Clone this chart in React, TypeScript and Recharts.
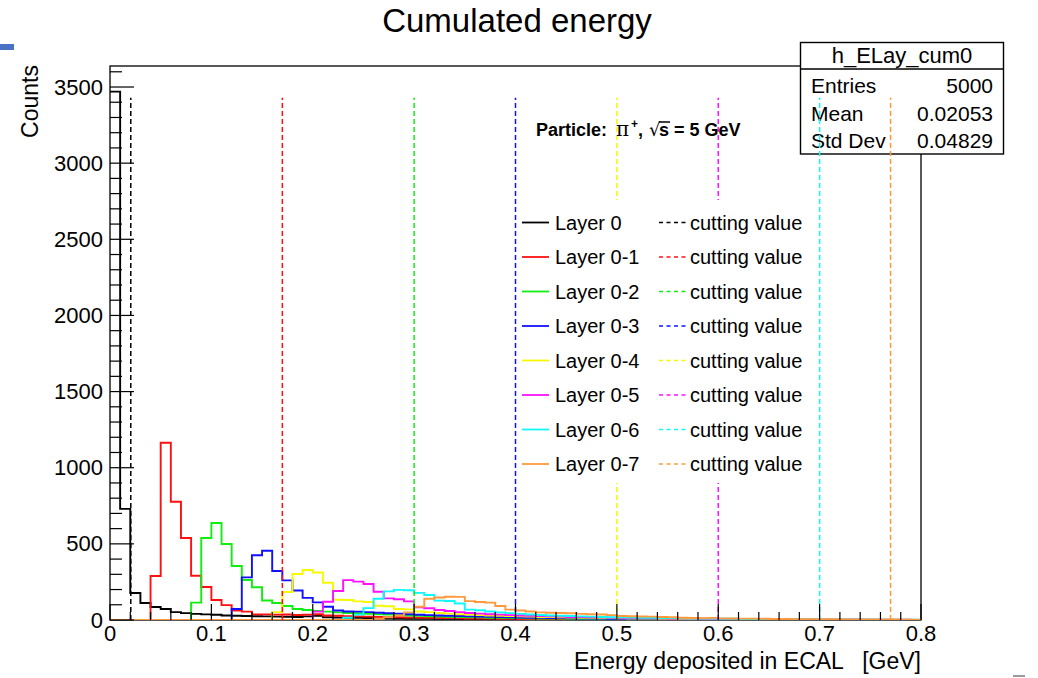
import React from 'react';
import { ComposedChart, Line, XAxis, YAxis, ReferenceLine, Customized } from 'recharts';

const FONT = '"Liberation Sans", Arial, Helvetica, sans-serif';

// bin low edges (width 0.01 GeV, 80 bins) plus the upper edge 0.8
const BIN_EDGES = Array.from({ length: 81 }, (_, i) => i / 100);

const LAYER_KEYS = ['l0', 'l1', 'l2', 'l3', 'l4', 'l5', 'l6', 'l7'];
const LAYER_NAMES = ['Layer 0', 'Layer 0-1', 'Layer 0-2', 'Layer 0-3', 'Layer 0-4', 'Layer 0-5', 'Layer 0-6', 'Layer 0-7'];
const LAYER_COLORS = ['#000000', '#ff1010', '#10ee10', '#1010ff', '#f8f800', '#ff10ff', '#10f8f8', '#ff9a3c'];

const LAYER0 = [
  3470, 730, 177, 112, 85, 72, 52, 45, 40, 37,
  34, 30, 28, 26, 25, 24, 22, 21, 20, 24,
  28, 18, 16, 15, 14, 13, 12, 12, 11, 10,
  9, 9, 8, 8, 7, 7, 6, 6, 5, 5,
  4, 4, 4, 3, 3, 3, 3, 2, 2, 2,
  2, 2, 1, 2, 1, 1, 1, 1, 1, 1,
  1, 1, 0, 1, 0, 1, 0, 0, 1, 0,
  0, 1, 0, 0, 0, 0, 1, 0, 0, 0,
];
const LAYER01 = [
  0, 0, 0, 0, 289, 1164, 777, 538, 291, 217,
  131, 98, 62, 55, 37, 37, 35, 36, 33, 35,
  38, 30, 28, 25, 24, 22, 20, 19, 18, 16,
  15, 14, 13, 12, 11, 10, 10, 9, 8, 8,
  7, 7, 6, 6, 5, 5, 5, 4, 4, 4,
  3, 3, 3, 3, 2, 2, 2, 2, 2, 2,
  1, 2, 1, 1, 1, 1, 1, 1, 1, 1,
  1, 0, 1, 0, 1, 0, 0, 1, 0, 0,
];
const LAYER02 = [
  0, 0, 0, 0, 0, 0, 0, 0, 114, 538,
  637, 499, 355, 263, 215, 128, 112, 92, 72, 66,
  59, 55, 50, 46, 44, 40, 38, 35, 32, 30,
  27, 25, 23, 21, 20, 18, 17, 15, 14, 13,
  12, 11, 10, 9, 9, 8, 7, 7, 6, 6,
  5, 5, 5, 4, 4, 4, 3, 3, 3, 3,
  2, 2, 2, 2, 2, 2, 1, 1, 1, 1,
  1, 1, 1, 1, 1, 0, 1, 0, 1, 0,
];
const LAYER03 = [
  0, 0, 0, 0, 0, 0, 0, 0, 0, 0,
  0, 0, 72, 280, 425, 455, 322, 260, 194, 145,
  116, 87, 62, 56, 55, 52, 48, 44, 42, 38,
  34, 32, 30, 28, 26, 24, 22, 21, 20, 18,
  16, 15, 14, 13, 12, 11, 10, 9, 9, 8,
  7, 7, 6, 6, 5, 5, 4, 4, 4, 3,
  3, 3, 3, 2, 2, 2, 2, 2, 1, 1,
  1, 1, 1, 1, 1, 1, 0, 1, 0, 0,
];
const LAYER04 = [
  0, 0, 0, 0, 0, 0, 0, 0, 0, 0,
  0, 0, 0, 0, 0, 0, 52, 184, 302, 328,
  312, 245, 133, 131, 122, 118, 94, 90, 72, 70,
  56, 52, 46, 42, 38, 35, 32, 30, 28, 26,
  24, 22, 20, 19, 18, 16, 15, 14, 13, 12,
  11, 10, 10, 9, 8, 8, 7, 7, 6, 6,
  5, 5, 4, 4, 4, 3, 3, 3, 3, 2,
  2, 2, 2, 2, 1, 1, 1, 1, 1, 1,
];
const LAYER05 = [
  0, 0, 0, 0, 0, 0, 0, 0, 0, 0,
  0, 0, 0, 0, 0, 0, 0, 0, 0, 0,
  55, 120, 190, 262, 252, 236, 186, 142, 136, 122,
  84, 77, 66, 59, 52, 46, 42, 38, 35, 32,
  30, 28, 26, 24, 22, 20, 19, 18, 16, 15,
  14, 13, 12, 12, 11, 10, 9, 9, 8, 8,
  7, 7, 6, 6, 5, 5, 5, 4, 4, 4,
  3, 3, 3, 3, 2, 2, 2, 2, 2, 1,
];
const LAYER06 = [
  0, 0, 0, 0, 0, 0, 0, 0, 0, 0,
  0, 0, 0, 0, 0, 0, 0, 0, 0, 0,
  0, 0, 0, 15, 35, 78, 140, 188, 198, 195,
  178, 164, 127, 125, 108, 68, 64, 56, 50, 45,
  40, 36, 33, 30, 28, 26, 24, 22, 20, 18,
  17, 16, 15, 14, 13, 12, 11, 10, 9, 9,
  8, 8, 7, 7, 6, 6, 5, 5, 5, 4,
  4, 4, 3, 3, 3, 3, 2, 2, 2, 2,
];
const LAYER07 = [
  0, 0, 0, 0, 0, 0, 0, 0, 0, 0,
  0, 0, 0, 0, 0, 0, 0, 0, 0, 0,
  0, 0, 0, 0, 0, 0, 8, 18, 30, 50,
  87, 140, 148, 153, 152, 124, 118, 114, 92, 68,
  62, 56, 50, 48, 46, 44, 40, 38, 36, 32,
  26, 25, 23, 22, 20, 18, 15, 13, 12, 14,
  11, 10, 9, 9, 8, 7, 7, 6, 6, 5,
  5, 5, 4, 4, 4, 3, 3, 3, 2, 2,
];
const LAYERS = [LAYER0, LAYER01, LAYER02, LAYER03, LAYER04, LAYER05, LAYER06, LAYER07];

const CUT_VALUES = [0.0205, 0.17, 0.3, 0.4, 0.5, 0.6, 0.7, 0.77];
const CUT_TOP = 3430;

const Y_MAX = 3638;
const Y_TICKS = Array.from({ length: 37 }, (_, i) => i * 100);
const X_TICKS = Array.from({ length: 41 }, (_, i) => (i * 2) / 100);

const STATS_ROWS = [
  ['Entries', '5000'],
  ['Mean', '0.02053'],
  ['Std Dev', '0.04829'],
];

// plot-area layout (set by the chart margins and axis sizes below)
const PLOT_LEFT = 110;
const PLOT_TOP = 66;
const PLOT_W = 811;
const PLOT_H = 554;

const data = BIN_EDGES.map((x, i) => {
  const row: Record<string, number> = { x };
  LAYERS.forEach((arr, k) => {
    row[LAYER_KEYS[k]] = arr[Math.min(i, arr.length - 1)];
  });
  return row;
});

const YTick = (props: any) => {
  const { x, y, payload } = props;
  const v = payload.value;
  const major = v % 500 === 0;
  return (
    <g>
      <line x1={x} x2={x + (major ? 24 : 12)} y1={y} y2={y} stroke="#000" strokeWidth={1.2} />
      {major && (
        <text x={x - 7} y={y} textAnchor="end" dominantBaseline="central" fontSize={22} fontFamily={FONT} fill="#000">
          {v}
        </text>
      )}
    </g>
  );
};

const XTick = (props: any) => {
  const { x, y, payload } = props;
  const v = payload.value;
  const major = Math.round(v * 100) % 10 === 0;
  return (
    <g>
      <line x1={x} x2={x} y1={y} y2={y - (major ? 16 : 8)} stroke="#000" strokeWidth={1.2} />
      {major && (
        <text x={x} y={y + 21} textAnchor="middle" fontSize={22} fontFamily={FONT} fill="#000">
          {v === 0 ? '0' : v.toFixed(1)}
        </text>
      )}
    </g>
  );
};

const FrameAndStats = () => (
  <g fontFamily={FONT} fill="#000">
    <rect x={PLOT_LEFT} y={PLOT_TOP} width={PLOT_W} height={PLOT_H} fill="none" stroke="#000" strokeWidth={1.3} />
    <rect x={800.5} y={42.5} width={203} height={111.5} fill="#fff" stroke="#000" strokeWidth={1.4} />
    <line x1={800.5} x2={1003.5} y1={69} y2={69} stroke="#000" strokeWidth={1.4} />
    <text x={902} y={63} textAnchor="middle" fontSize={22}>h_ELay_cum0</text>
    {STATS_ROWS.map((r, i) => (
      <g key={r[0]}>
        <text x={811} y={93 + i * 27.5} fontSize={21}>{r[0]}</text>
        <text x={993} y={93 + i * 27.5} fontSize={21} textAnchor="end">{r[1]}</text>
      </g>
    ))}
  </g>
);

const LEGEND_Y0 = 222.5;
const LEGEND_DY = 34.5;

const Overlay = () => (
  <svg width={1038} height={678} style={{ position: 'absolute', left: 0, top: 0, pointerEvents: 'none' }} fontFamily={FONT}>
    <text x={517} y={32} textAnchor="middle" fontSize={33} fill="#000">Cumulated energy</text>
    <text transform="translate(38,65) rotate(-90)" textAnchor="end" fontSize={23} fill="#000">Counts</text>
    <text x={921} y={669} textAnchor="end" fontSize={23} fill="#000" style={{ whiteSpace: 'pre' }}>
      {'Energy deposited in ECAL   [GeV]'}
    </text>
    {/* particle label */}
    <g fontWeight="bold" fontSize={18} fill="#000">
      <text x={536} y={136}>Particle:</text>
      <text x={616} y={136} fontFamily="'DejaVu Serif', serif" fontWeight="normal" fontSize={20}>π</text>
      <text x={631} y={128} fontSize={12}>+</text>
      <text x={638} y={136}>,</text>
      <text x={649} y={136} fontFamily="'DejaVu Sans', sans-serif" fontWeight="normal" fontSize={18}>√</text>
      <line x1={659} x2={670} y1={122} y2={122} stroke="#000" strokeWidth={1.5} />
      <text x={659} y={136}>s</text>
      <text x={674} y={136}>= 5 GeV</text>
    </g>
    {/* legend */}
    <rect x={519} y={200} width={296} height={283} fill="#fff" />
    {LAYER_NAMES.map((name, i) => {
      const cy = LEGEND_Y0 + i * LEGEND_DY;
      return (
        <g key={name}>
          <line x1={522} x2={549} y1={cy} y2={cy} stroke={LAYER_COLORS[i]} strokeWidth={1.8} />
          <text x={555} y={cy} dominantBaseline="central" fontSize={20} fill="#000">{name}</text>
          <line x1={659} x2={686} y1={cy} y2={cy} stroke={LAYER_COLORS[i]} strokeWidth={1.5} strokeDasharray="4 3.5" />
          <text x={690} y={cy} dominantBaseline="central" fontSize={20} fill="#000">cutting value</text>
        </g>
      );
    })}
    {/* slide artefacts */}
    <rect x={0} y={44} width={14} height={6} fill="#4a72c4" />
    <rect x={1013} y={675} width={12} height={2} fill="#9a9a9a" />
  </svg>
);

export default function App() {
  return (
    <div style={{ position: 'absolute', left: 0, top: 0, width: 1038, height: 678, background: '#fff', overflow: 'hidden' }}>
      <ComposedChart width={1038} height={678} data={data} margin={{ top: 66, right: 117, bottom: 8, left: 10 }}>
        <Customized component={FrameAndStats} />
        {LAYER_KEYS.map((k, i) => (
          <Line
            key={k}
            dataKey={k}
            type="stepAfter"
            stroke={LAYER_COLORS[i]}
            strokeWidth={1.9}
            dot={false}
            activeDot={false}
            isAnimationActive={false}
          />
        ))}
        <XAxis
          type="number"
          dataKey="x"
          domain={[0, 0.8]}
          ticks={X_TICKS}
          interval={0}
          tick={(p: any) => <XTick {...p} />}
          tickLine={false}
          axisLine={false}
          tickSize={0}
          tickMargin={0}
          height={50}
          allowDataOverflow
        />
        <YAxis
          type="number"
          domain={[0, Y_MAX]}
          ticks={Y_TICKS}
          interval={0}
          tick={(p: any) => <YTick {...p} />}
          tickLine={false}
          axisLine={false}
          tickSize={0}
          tickMargin={0}
          width={100}
          allowDataOverflow
        />
        {CUT_VALUES.map((c, i) => (
          <ReferenceLine
            key={'cut' + i}
            segment={[{ x: c, y: 0 }, { x: c, y: CUT_TOP }]}
            stroke={LAYER_COLORS[i]}
            strokeWidth={1.5}
            strokeDasharray="5 3"
            ifOverflow="visible"
          />
        ))}
      </ComposedChart>
      <Overlay />
    </div>
  );
}
